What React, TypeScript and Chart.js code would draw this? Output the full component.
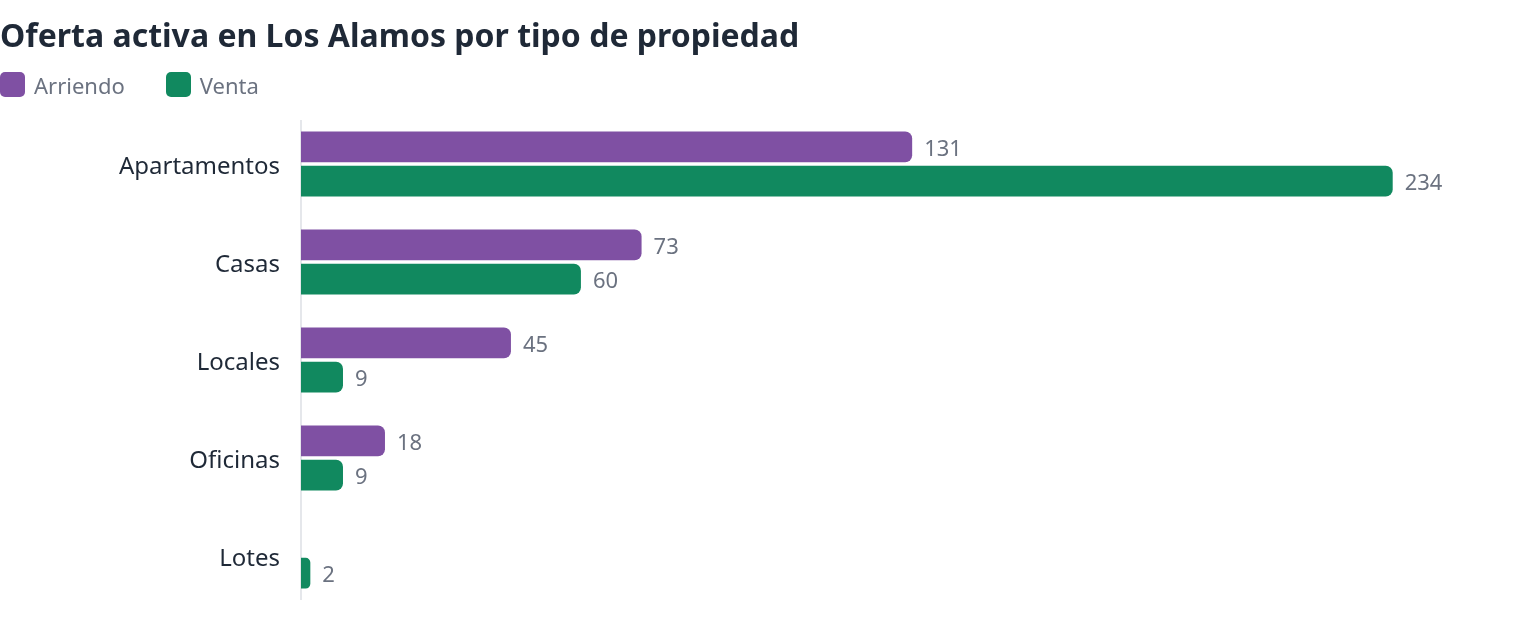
import React, { useEffect, useRef } from "react";
import { Chart, registerables } from "chart.js";

Chart.register(...registerables);

// Property types and active listings per operation
const categories: string[] = ["Apartamentos", "Casas", "Locales", "Oficinas", "Lotes"];
const arriendo: (number | null)[] = [131, 73, 45, 18, null];
const venta: (number | null)[] = [234, 60, 9, 9, 2];

const seriesNames: string[] = ["Arriendo", "Venta"];
const seriesColors: string[] = ["#7f50a3", "#11895f"];

const titleText = "Oferta activa en Los Alamos por tipo de propiedad";

const FONT = '"Noto Sans", "Open Sans", sans-serif';

// Writes each bar's value just past its end
const valueLabels = {
  id: "valueLabels",
  afterDatasetsDraw(chart: any) {
    const ctx = chart.ctx;
    ctx.save();
    ctx.font = `22px ${FONT}`;
    ctx.fillStyle = "#6b7280";
    ctx.textAlign = "left";
    ctx.textBaseline = "middle";
    chart.data.datasets.forEach((ds: any, di: number) => {
      const meta = chart.getDatasetMeta(di);
      meta.data.forEach((el: any, i: number) => {
        const v = ds.data[i];
        if (v === null || v === undefined) return;
        ctx.fillText(String(v), el.x + 12, el.y + 3);
      });
    });
    ctx.restore();
  },
};

// Thin vertical baseline along the category axis
const baseLine = {
  id: "baseLine",
  beforeDatasetsDraw(chart: any) {
    const { ctx, chartArea } = chart;
    ctx.save();
    ctx.strokeStyle = "#e5e7eb";
    ctx.lineWidth = 2;
    ctx.beginPath();
    ctx.moveTo(chartArea.left, chartArea.top + 5);
    ctx.lineTo(chartArea.left, chartArea.bottom - 5);
    ctx.stroke();
    ctx.restore();
  },
};

export default function App() {
  const canvasRef = useRef<HTMLCanvasElement | null>(null);

  useEffect(() => {
    document.body.style.margin = "0";
    if (!canvasRef.current) return;
    const chart = new Chart(canvasRef.current, {
      type: "bar",
      data: {
        labels: categories,
        datasets: [
          {
            label: seriesNames[0],
            data: arriendo,
            backgroundColor: seriesColors[0],
            borderRadius: 7,
            borderSkipped: "start",
            categoryPercentage: 0.7,
            barPercentage: 0.895,
          },
          {
            label: seriesNames[1],
            data: venta,
            backgroundColor: seriesColors[1],
            borderRadius: 7,
            borderSkipped: "start",
            categoryPercentage: 0.7,
            barPercentage: 0.895,
          },
        ],
      },
      options: {
        indexAxis: "y",
        responsive: false,
        animation: false,
        devicePixelRatio: 1,
        layout: { padding: { top: 115, bottom: 37, right: 6, left: 0 } },
        plugins: {
          legend: { display: false },
          tooltip: { enabled: false },
          title: { display: false },
        },
        scales: {
          x: {
            display: false,
            min: 0,
            max: 260,
          },
          y: {
            grid: { display: false, drawTicks: false },
            border: { display: false },
            ticks: {
              color: "#1f2937",
              font: { family: FONT, size: 24 },
              padding: 21,
              labelOffset: 3,
            },
            afterFit: (scale: any) => {
              scale.width = 301;
            },
          },
        },
      },
      plugins: [baseLine, valueLabels],
    });
    return () => chart.destroy();
  }, []);

  return (
    <div
      style={{
        position: "absolute",
        left: 0,
        top: 0,
        width: 1520,
        height: 642,
        background: "#ffffff",
        fontFamily: FONT,
        overflow: "hidden",
      }}
    >
      <canvas
        ref={canvasRef}
        width={1520}
        height={642}
        style={{ position: "absolute", left: 0, top: 0, width: 1520, height: 642 }}
      />
      <div
        style={{
          position: "absolute",
          left: 0,
          top: 19,
          fontSize: 32,
          lineHeight: "32px",
          fontWeight: 700,
          color: "#1f2937",
          whiteSpace: "nowrap",
        }}
      >
        {titleText}
      </div>
      <div
        style={{
          position: "absolute",
          left: 0,
          top: 72,
          height: 25,
          display: "flex",
          alignItems: "center",
          gap: 41,
        }}
      >
        {seriesNames.map((name, i) => (
          <div key={name} style={{ display: "flex", alignItems: "center", gap: 9 }}>
            <span
              style={{
                display: "inline-block",
                width: 25,
                height: 25,
                borderRadius: 5,
                background: seriesColors[i],
              }}
            />
            <span style={{ fontSize: 22, lineHeight: "22px", color: "#6b7280" }}>{name}</span>
          </div>
        ))}
      </div>
    </div>
  );
}
